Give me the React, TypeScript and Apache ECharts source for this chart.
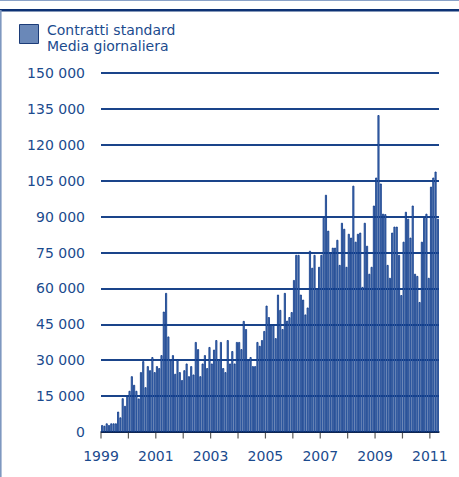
import React, { useEffect, useRef } from 'react';
import * as echarts from 'echarts';

// Monthly values (Contratti standard, media giornaliera), Jan 1999 – Apr 2011
const y1999 = [2900, 2600, 3600, 2900, 3600, 3600, 3600, 8500, 6100, 14100, 10900, 15100];
const y2000 = [17200, 23300, 19700, 17200, 14000, 25000, 29600, 18700, 27500, 25800, 31300, 25000];
const y2001 = [27500, 26700, 32100, 50300, 58100, 39900, 30000, 32100, 24300, 30400, 25000, 21700];
const y2002 = [25800, 28600, 23300, 27500, 24000, 37600, 34600, 23300, 28600, 32100, 26700, 35500];
const y2003 = [28600, 34400, 38400, 30400, 37600, 26700, 25000, 38400, 28600, 33800, 28600, 37600];
const y2004 = [37600, 34600, 46400, 43000, 30000, 31300, 27500, 27500, 37600, 36000, 38400, 42200];
const y2005 = [52800, 48000, 44800, 44800, 39200, 57400, 51000, 43000, 58100, 46500, 48000, 50100];
const y2006 = [63500, 74000, 74000, 57400, 55300, 49100, 52000, 75700, 68600, 74000, 60000, 69000];
const y2007 = [74000, 89500, 99100, 84100, 74900, 77000, 77000, 80300, 69800, 87400, 84900, 69000];
const y2008 = [82800, 81200, 102900, 79500, 82800, 83300, 60600, 87400, 77800, 66100, 69000, 94600];
const y2009 = [106300, 132400, 103800, 91200, 91000, 69800, 64400, 83300, 85800, 85800, 74000, 57200];
const y2010 = [79500, 92000, 89100, 81200, 94600, 66100, 65200, 54300, 79500, 89500, 91200, 64400];
const y2011 = [102500, 106300, 108800, 89100];

const tickYears = [1999, 2000, 2001, 2002, 2003, 2004, 2005, 2006, 2007, 2008, 2009, 2010, 2011];
const labelYears = [1999, 2001, 2003, 2005, 2007, 2009, 2011];
const yMax = 150000;
const yStep = 15000;

const legendText = 'Contratti standard\nMedia giornaliera';

const monthly = [
  ...y1999, ...y2000, ...y2001, ...y2002, ...y2003, ...y2004, ...y2005,
  ...y2006, ...y2007, ...y2008, ...y2009, ...y2010, ...y2011,
];

const FONT = 'DejaVu Sans';
const TEXT_BLUE = '#1b4b8e';

function fmtThousands(v: number): string {
  return String(v).replace(/\B(?=(\d{3})+(?!\d))/g, ' ');
}

export default function App() {
  const ref = useRef<HTMLDivElement>(null);
  useEffect(() => {
    const chart = echarts.init(ref.current as HTMLDivElement, null, { renderer: 'svg' });
    const startYear = tickYears[0];
    chart.setOption({
      animation: false,
      backgroundColor: '#ffffff',
      textStyle: { fontFamily: FONT },
      grid: { left: 101, right: 20, top: 73, bottom: 45, containLabel: false, outerBoundsMode: 'none' },
      xAxis: {
        type: 'value',
        min: 0,
        max: monthly.length,
        interval: 12,
        axisLine: { show: true, onZero: false, lineStyle: { color: '#0e1c3c', width: 1.5 } },
        axisTick: { show: false },
        splitLine: { show: false },
        axisLabel: {
          color: TEXT_BLUE,
          fontSize: 14,
          fontFamily: FONT,
          margin: 17,
          showMinLabel: true,
          showMaxLabel: true,
          formatter: (v: number) => {
            const yr = startYear + v / 12;
            return labelYears.indexOf(yr) >= 0 ? String(yr) : '';
          },
        },
      },
      yAxis: {
        type: 'value',
        min: 0,
        max: yMax,
        interval: yStep,
        axisLine: { show: false },
        axisTick: { show: false },
        splitLine: { show: true, lineStyle: { color: '#1a448a', width: 2 } },
        axisLabel: {
          color: TEXT_BLUE,
          fontSize: 14,
          fontFamily: FONT,
          margin: 16,
          formatter: (v: number) => fmtThousands(v),
        },
      },
      series: [
        {
          type: 'bar',
          data: monthly.map((v, i) => [i + 0.5, v]),
          barWidth: 2,
          itemStyle: { color: '#5a7fba', borderColor: '#083587', borderWidth: 0.8 },
          silent: true,
        },
        {
          type: 'scatter',
          data: tickYears.map((y) => [(y - startYear) * 12, 0]),
          symbol: 'rect',
          symbolSize: [1.2, 6],
          symbolOffset: [0, 3.5],
          itemStyle: { color: '#333333' },
          clip: false,
          silent: true,
          z: 5,
        },
      ],
      graphic: [
        { type: 'rect', shape: { x: 0, y: 0, width: 459, height: 1 }, style: { fill: '#8aa2c8' }, silent: true },
        { type: 'rect', shape: { x: 0, y: 9, width: 459, height: 2.5 }, style: { fill: '#0d3275' }, silent: true },
        { type: 'rect', shape: { x: 0, y: 10, width: 1.6, height: 467 }, style: { fill: '#7e98c0' }, silent: true },
        {
          type: 'rect',
          shape: { x: 19.5, y: 24.5, width: 19, height: 19 },
          style: { fill: '#6a88b8', stroke: '#1c3c78', lineWidth: 1 },
          silent: true,
        },
        {
          type: 'text',
          x: 47,
          y: 22,
          style: {
            text: legendText,
            font: `14px "${FONT}"`,
            lineHeight: 16,
            fill: TEXT_BLUE,
            verticalAlign: 'top',
          },
          silent: true,
        },
      ],
    });
    return () => chart.dispose();
  }, []);
  return (
    <div
      ref={ref}
      style={{ position: 'fixed', left: 0, top: 0, width: 459, height: 477, background: '#fff' }}
    />
  );
}
